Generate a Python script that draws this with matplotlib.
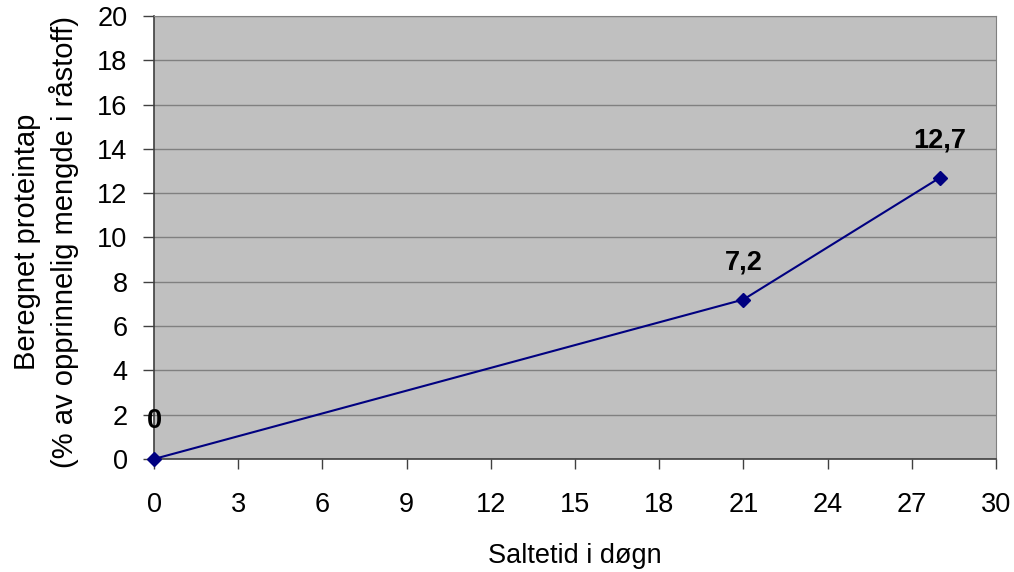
import matplotlib
matplotlib.use('Agg')
import matplotlib.pyplot as plt

# saltetid (døgn) og beregnet proteintap (%)
dager = [0, 21, 28]
proteintap = [0, 7.2, 12.7]
etiketter = ['0', '7,2', '12,7']

plt.rcParams['font.family'] = ['Liberation Sans', 'DejaVu Sans']

fig = plt.figure(figsize=(10.14, 5.72), dpi=100)
ax = fig.add_axes([154/1014, 1-459/572, (996-154)/1014, (459-16)/572])
ax.set_facecolor('#c0c0c0')

ax.plot(dager, proteintap, color='#000080', lw=1.5, marker='D', ms=7,
        markerfacecolor='#000080', markeredgecolor='#000080', zorder=3, clip_on=False)

for x, y, t in zip(dager, proteintap, etiketter):
    ax.annotate(t, (x, y), xytext=(0, 27), textcoords='offset points',
                ha='center', va='center', fontsize=19.5, fontweight='bold')

ax.set_xlim(0, 30)
ax.set_ylim(0, 20)
ax.set_xticks(range(0, 31, 3))
ax.set_yticks(range(0, 21, 2))
ax.yaxis.grid(True, color='#808080', lw=1)
ax.set_axisbelow(True)

for s in ['left', 'bottom']:
    ax.spines[s].set_color('#404040')
    ax.spines[s].set_linewidth(1.2)
ax.spines['right'].set_color('#808080')
ax.spines['top'].set_color('#808080')

ax.tick_params(axis='x', direction='out', length=7.5, width=1, color='#404040',
               labelsize=19.5, pad=16)
ax.tick_params(axis='y', direction='out', length=8, width=1, color='#404040',
               labelsize=19.5, pad=11)

ax.set_xlabel('Saltetid i døgn', fontsize=19.5, labelpad=18)
ax.set_ylabel('Beregnet proteintap\n(% av opprinnelig mengde i råstoff)', fontsize=21,
              linespacing=1.35)
ax.yaxis.set_label_coords(-0.089, 0.49)

fig.savefig('out.png', dpi=100)
